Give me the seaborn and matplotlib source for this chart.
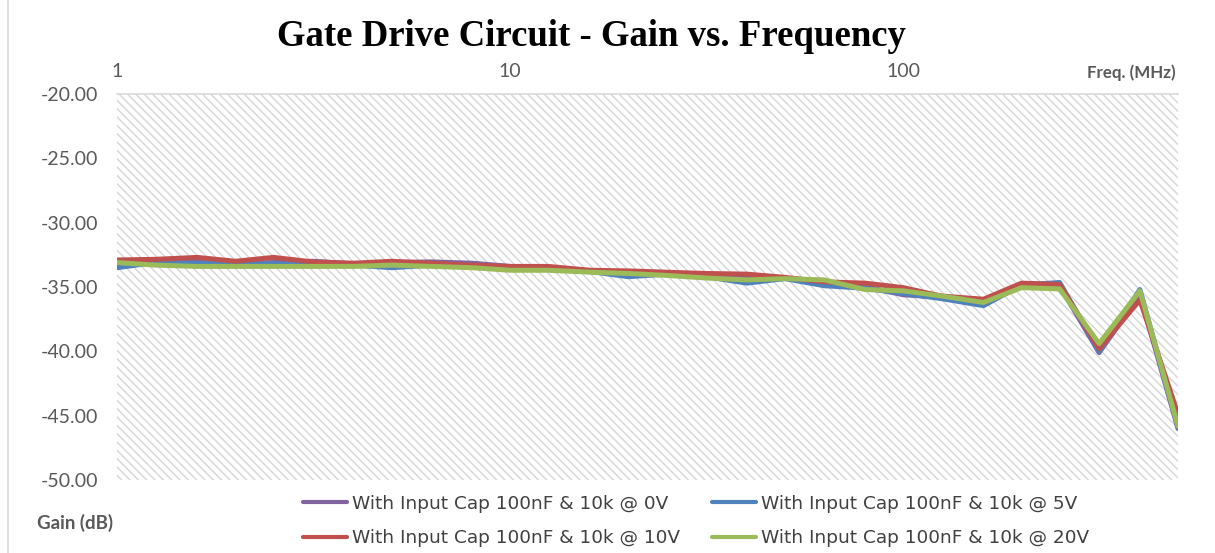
import numpy as np
import pandas as pd
import matplotlib
matplotlib.use("Agg")
import matplotlib.pyplot as plt
import seaborn as sns
from matplotlib.patches import Rectangle
from matplotlib.lines import Line2D

# frequency points (MHz), 1/10 decade steps
freqs = [1, 1.25, 1.6, 2, 2.5, 3.15, 4, 5, 6.3, 8, 10, 12.5, 16, 20, 25, 31.5,
         40, 50, 63, 80, 100, 125, 160, 200, 250, 315, 400, 500]

# gain (dB)
gain_0v = [-33.2, -33.0, -33.0, -33.2, -33.1, -33.0, -33.2, -33.1, -33.05, -33.15,
           -33.4, -33.5, -33.75, -33.9, -34.0, -34.1, -34.3, -34.3, -34.7, -35.0,
           -35.6, -35.8, -36.3, -34.9, -34.9, -40.1, -35.6, -46.0]
gain_5v = [-33.5, -33.1, -33.15, -33.2, -33.2, -33.3, -33.3, -33.5, -33.3, -33.3,
           -33.5, -33.6, -33.8, -34.2, -34.0, -34.2, -34.7, -34.35, -34.9, -35.1,
           -35.5, -35.9, -36.45, -34.85, -34.65, -40.0, -35.2, -45.9]
gain_10v = [-32.9, -32.85, -32.7, -33.0, -32.7, -33.05, -33.15, -33.0, -33.15, -33.3,
            -33.4, -33.4, -33.7, -33.75, -33.85, -33.95, -34.0, -34.25, -34.6, -34.7,
            -35.05, -35.7, -35.95, -34.7, -34.8, -39.8, -36.0, -44.9]
gain_20v = [-33.1, -33.3, -33.4, -33.4, -33.4, -33.4, -33.4, -33.3, -33.4, -33.5,
            -33.7, -33.7, -33.85, -33.95, -34.1, -34.3, -34.45, -34.35, -34.45, -35.2,
            -35.3, -35.7, -36.2, -35.05, -35.15, -39.4, -35.3, -45.8]

labels = ["With Input Cap 100nF & 10k @ 0V", "With Input Cap 100nF & 10k @ 5V",
          "With Input Cap 100nF & 10k @ 10V", "With Input Cap 100nF & 10k @ 20V"]
colors = ["#8064A2", "#4F81BD", "#C0504D", "#9BBB59"]

df = pd.concat([
    pd.DataFrame({"freq": freqs, "gain": g, "series": lab})
    for g, lab in zip([gain_0v, gain_5v, gain_10v, gain_20v], labels)
])

sns.set_style("white")
plt.rcParams["font.family"] = ["Lato", "DejaVu Sans"]
plt.rcParams["hatch.linewidth"] = 1.0

fig = plt.figure(figsize=(12.15, 5.53), dpi=100)
ax = fig.add_axes([117 / 1215, 1 - 480 / 553, (1178 - 117) / 1215, (480 - 94) / 553])

# hatched plot area
ax.add_patch(Rectangle((0, 0), 1, 1, transform=ax.transAxes, facecolor="white",
                       edgecolor="#D6D6D6", hatch="\\\\\\\\", linewidth=0, zorder=0))

sns.lineplot(data=df, x="freq", y="gain", hue="series", hue_order=labels,
             palette=colors, linewidth=3.6, ax=ax, legend=False, zorder=3)

ax.set_xscale("log")
ax.set_xlim(1, 500)
ax.set_ylim(-50, -20)
ax.set_yticks(np.arange(-50, -19, 5))
ax.set_yticklabels([f"{v:.2f}" for v in np.arange(-50, -19, 5)])
ax.set_xticks([1, 10, 100])
ax.set_xticklabels(["1", "10", "100"])
ax.xaxis.set_minor_locator(matplotlib.ticker.NullLocator())
ax.xaxis.tick_top()
ax.tick_params(axis="both", length=0, labelsize=14, colors="#595959")
ax.tick_params(axis="x", pad=10)
ax.tick_params(axis="y", pad=13.5)
ax.set_xlabel("")
ax.set_ylabel("")
for s in ["left", "right", "bottom"]:
    ax.spines[s].set_visible(False)
ax.spines["top"].set_color("#D9D9D9")
ax.spines["top"].set_linewidth(1.2)

fig.text(591 / 1215, 1 - 37 / 553, "Gate Drive Circuit - Gain vs. Frequency",
         ha="center", va="center", fontsize=26.5, fontweight="bold",
         family=["Liberation Serif"], color="black")
fig.text(1176 / 1215, 1 - 73 / 553, "Freq. (MHz)", ha="right", va="center",
         fontsize=12.2, fontweight="bold", color="#595959")
fig.text(37 / 1215, 1 - 523 / 553, "Gain (dB)", ha="left", va="center",
         fontsize=13.5, fontweight="bold", color="#595959")

# left border of the chart area
fig.add_artist(Line2D([8 / 1215, 8 / 1215], [0, 1], color="#D9D9D9", linewidth=1.2))

handles = [Line2D([], [], color=c, linewidth=3) for c in colors]
order = [0, 2, 1, 3]
fig.legend([handles[i] for i in order], [labels[i] for i in order],
           ncol=2, loc="center", bbox_to_anchor=(696 / 1215, 1 - 521 / 553),
           frameon=False, prop={"family": ["DejaVu Sans"], "size": 13.3},
           handlelength=2.4, handletextpad=0.26, columnspacing=1.7,
           labelspacing=0.9, labelcolor="#404040")

fig.savefig("out.png", dpi=100)
